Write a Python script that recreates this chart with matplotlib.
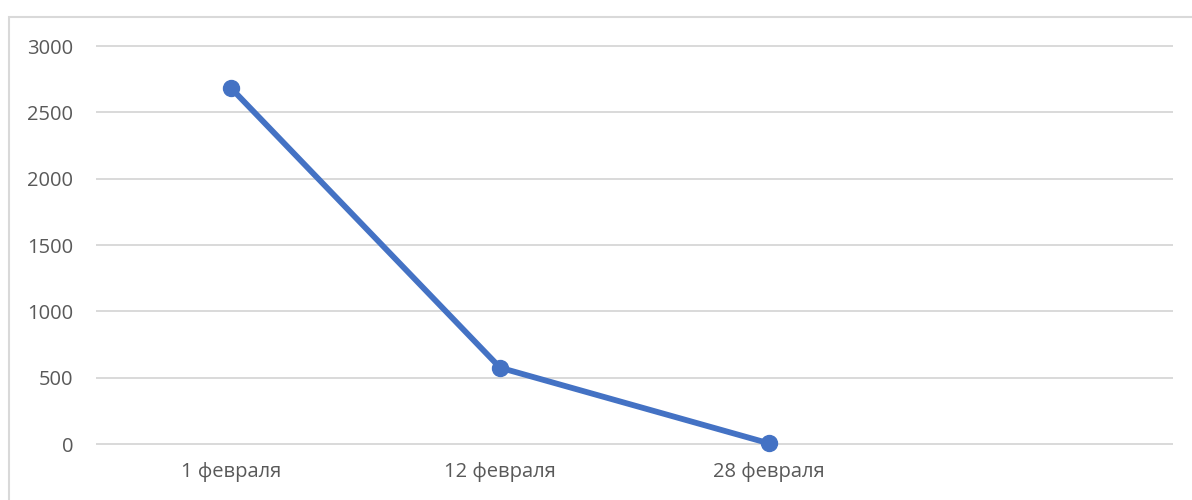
import matplotlib.pyplot as plt
from matplotlib.patches import Rectangle

dates = ['1 февраля', '12 февраля', '28 февраля', '']
values = [2680, 575, 5]
y_ticks = [0, 500, 1000, 1500, 2000, 2500, 3000]

plt.rcParams['font.family'] = ['Open Sans', 'DejaVu Sans']

fig = plt.figure(figsize=(11.92, 5), dpi=100)
ax = fig.add_axes([97 / 1192, 56 / 500, 1075 / 1192, 398 / 500])

# chart frame, runs off the right and bottom edges
fig.patches.append(Rectangle((9 / 1192, -0.1), 1.2, 1.1 - 17 / 500,
                             transform=fig.transFigure, fill=False,
                             edgecolor='#d9d9d9', linewidth=1.5))

x = range(len(values))
ax.plot(x, values, color='#4472c4', lw=4.2, marker='o', ms=11.5,
        solid_capstyle='round', zorder=3, clip_on=False)

ax.set_xlim(-0.5, len(dates) - 0.5)
ax.set_ylim(0, 3000)
ax.set_xticks(range(len(dates)))
ax.set_xticklabels(dates)
ax.set_yticks(y_ticks)

ax.grid(axis='y', color='#d9d9d9', lw=1.4)
for g in ax.get_ygridlines():
    g.set_clip_on(False)
ax.set_axisbelow(True)
for s in ax.spines.values():
    s.set_visible(False)
ax.tick_params(length=0, labelsize=14.5, colors='#595959')
ax.tick_params(axis='y', pad=17)
ax.tick_params(axis='x', pad=13)

plt.savefig('out.png', dpi=100)
